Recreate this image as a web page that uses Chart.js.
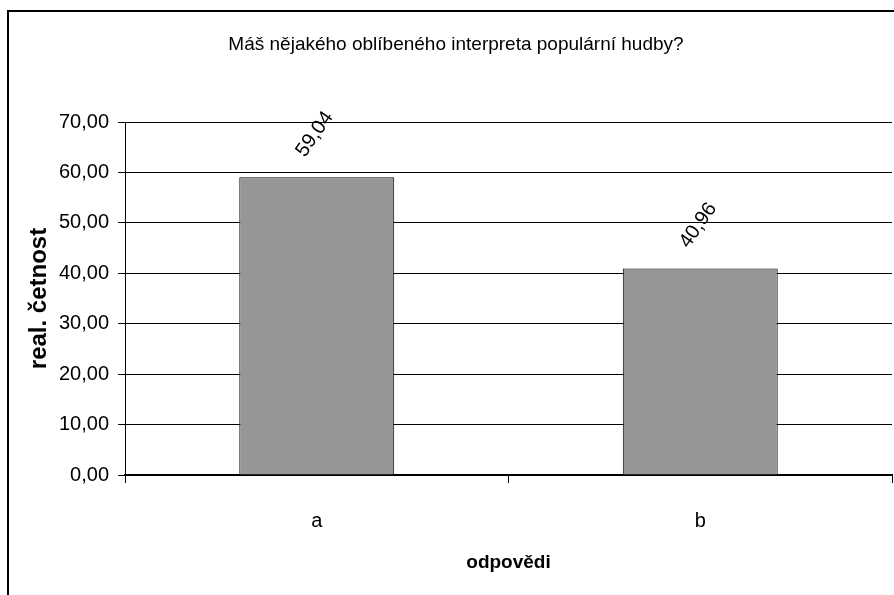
<!DOCTYPE html>
<html>
<head>
<meta charset="utf-8">
<script src="https://cdn.jsdelivr.net/npm/chart.js@4/dist/chart.umd.min.js"></script>
<style>
  html, body { margin: 0; padding: 0; background: #fff; }
  #wrap { position: relative; width: 894px; height: 595px; }
  canvas { display: block; }
</style>
</head>
<body>
<div id="wrap"><canvas id="c" width="894" height="595"></canvas></div>
<script>
const chartTitle = "Máš nějakého oblíbeného interpreta populární hudby?";
const categories = ["a", "b"];
const values = [59.04, 40.96];
const yTitle = "real. četnost";
const xTitle = "odpovědi";
const yMin = 0, yMax = 70, yStep = 10;

const FONT = '"Liberation Sans", Arial, sans-serif';
const fmt = v => v.toFixed(2).replace('.', ',');

const frame = {
  id: 'frame',
  beforeDraw(chart) {
    const ctx = chart.ctx;
    ctx.save();
    ctx.fillStyle = '#fff';
    ctx.fillRect(0, 0, chart.width, chart.height);
    ctx.strokeStyle = '#000';
    ctx.lineWidth = 2;
    ctx.beginPath();
    ctx.moveTo(8, 600);
    ctx.lineTo(8, 11);
    ctx.lineTo(900, 11);
    ctx.stroke();
    ctx.restore();
  },
  afterDraw(chart) {
    const ctx = chart.ctx;
    ctx.save();
    ctx.font = '19px ' + FONT;
    ctx.fillStyle = '#000';
    ctx.textAlign = 'center';
    ctx.textBaseline = 'middle';
    ctx.fillText(chartTitle, 456, 45);
    ctx.restore();
  }
};

const barLabels = {
  id: 'barLabels',
  afterDatasetsDraw(chart) {
    const ctx = chart.ctx;
    const meta = chart.getDatasetMeta(0);
    ctx.save();
    ctx.font = '20px ' + FONT;
    ctx.fillStyle = '#000';
    ctx.textAlign = 'center';
    ctx.textBaseline = 'middle';
    meta.data.forEach((bar, i) => {
      ctx.save();
      ctx.translate(bar.x - 2, bar.y - 43);
      ctx.rotate(-55 * Math.PI / 180);
      ctx.fillText(fmt(values[i]), 0, 0);
      ctx.restore();
    });
    ctx.restore();
  }
};

new Chart(document.getElementById('c'), {
  type: 'bar',
  data: {
    labels: categories,
    datasets: [{
      data: values,
      backgroundColor: '#969696',
      borderColor: '#000',
      borderWidth: 1,
      barPercentage: 0.404,
      categoryPercentage: 1
    }]
  },
  options: {
    responsive: false,
    animation: false,
    devicePixelRatio: 1,
    layout: { padding: { left: 9, right: 2, top: 122, bottom: 0 } },
    plugins: {
      legend: { display: false },
      tooltip: { enabled: false },
      title: { display: false }
    },
    scales: {
      x: {
        offset: true,
        grid: { display: true, drawOnChartArea: false, drawTicks: true, tickLength: 8, color: '#000', lineWidth: 1, offset: true },
        border: { display: true, color: '#000', width: 2 },
        ticks: { color: '#000', font: { family: FONT, size: 20 }, padding: 26 },
        title: { display: true, text: xTitle, color: '#000', font: { family: FONT, size: 19, weight: 'bold' }, padding: { top: 0, bottom: 21 } },
        afterFit(s) { s.height = 595 - 475; }
      },
      y: {
        min: yMin, max: yMax,
        grid: { color: '#000', lineWidth: 1, drawTicks: true, tickLength: 7 },
        border: { display: true, color: '#000', width: 1 },
        ticks: { stepSize: yStep, color: '#000', font: { family: FONT, size: 20 }, padding: 9, callback: v => fmt(v) },
        title: { display: true, text: yTitle, color: '#000', font: { family: FONT, size: 24, weight: 'bold' }, padding: { top: 16, bottom: 0 } },
        afterFit(s) { s.width = 125 - 9; }
      }
    }
  },
  plugins: [frame, barLabels]
});
</script>
</body>
</html>
